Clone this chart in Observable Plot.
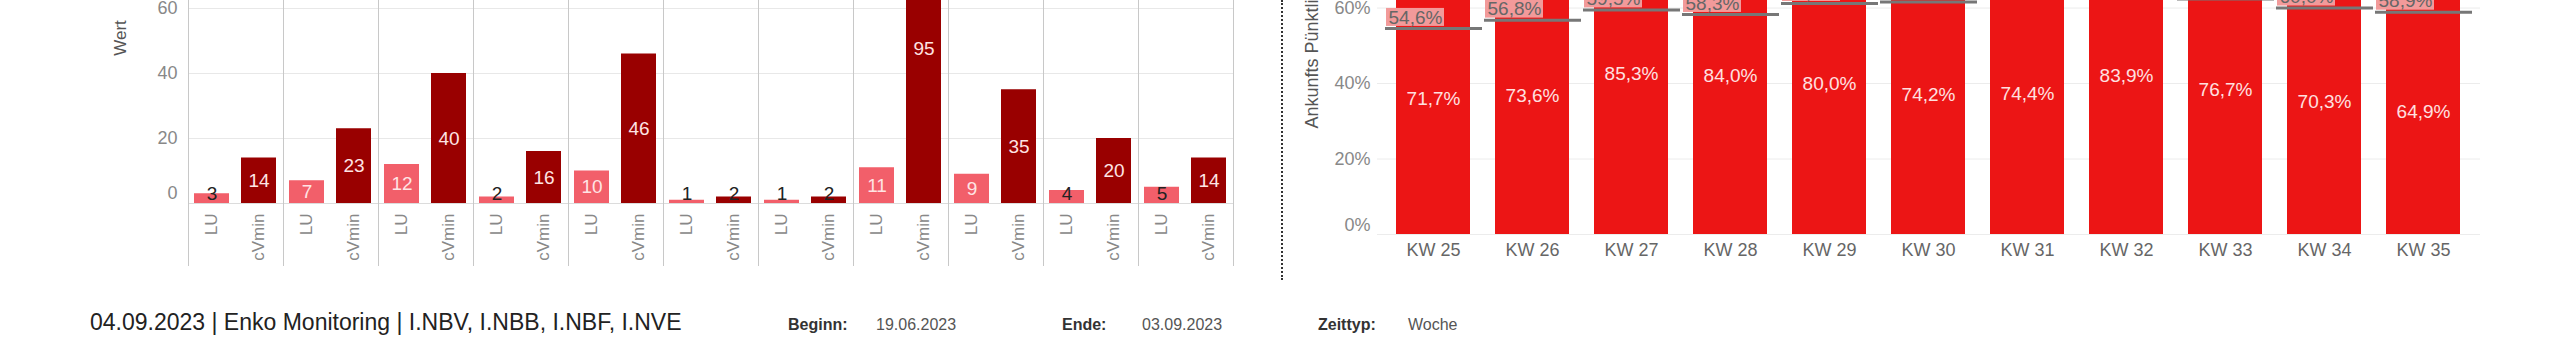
<!DOCTYPE html>
<html>
<head>
<meta charset="utf-8">
<script src="https://cdn.jsdelivr.net/npm/d3@7"></script>
<script src="https://cdn.jsdelivr.net/npm/@observablehq/plot@0.6"></script>
<style>
  html, body { margin: 0; padding: 0; background: #fff; }
  #page { position: relative; width: 2573px; height: 362px; overflow: hidden; font-family: "Liberation Sans", Arial, sans-serif; }
  #left, #right { position: absolute; top: 0; }
  #left { left: 0; }
  #right { left: 1270px; }
  .abs { position: absolute; white-space: nowrap; line-height: 1; }
  .rot { transform: translate(-50%, -50%) rotate(-90deg); }
  #sep { position: absolute; left: 1281px; top: 0; height: 280px; border-left: 2px dotted #333; }
  .lbl { font-size: 16px; font-weight: bold; color: #333; }
  .val { font-size: 16px; color: #555; }
</style>
</head>
<body>
<div id="page">
  <div id="left"></div>
  <div id="right"></div>
  <div id="sep"></div>
  <div class="abs rot" style="left:120px; top:38px; font-size:17px; color:#555;">Wert</div>
  <div class="abs" style="left:90px; top:311px; font-size:23px; color:#222;">04.09.2023 | Enko Monitoring | I.NBV, I.NBB, I.NBF, I.NVE</div>
  <div class="abs lbl" style="left:788px; top:317px;">Beginn:</div>
  <div class="abs val" style="left:876px; top:317px;">19.06.2023</div>
  <div class="abs lbl" style="left:1062px; top:317px;">Ende:</div>
  <div class="abs val" style="left:1142px; top:317px;">03.09.2023</div>
  <div class="abs lbl" style="left:1318px; top:317px;">Zeittyp:</div>
  <div class="abs val" style="left:1408px; top:317px;">Woche</div>
</div>
<script>
// ---- data ----
const weeks = ["KW 25", "KW 26", "KW 27", "KW 28", "KW 29", "KW 30", "KW 31", "KW 32", "KW 33", "KW 34", "KW 35"];
const seriesNames = ["LU", "cVmin"];
const luValues = [3, 7, 12, 2, 10, 1, 1, 11, 9, 4, 5];
const cvminValues = [14, 23, 40, 16, 46, 2, 2, 95, 35, 20, 14];
const punctuality = [71.7, 73.6, 85.3, 84.0, 80.0, 74.2, 74.4, 83.9, 76.7, 70.3, 64.9];
const targets = [54.6, 56.8, 59.5, 58.3, 61.2, 61.6, 62.5, 62.8, 62.4, 60.0, 58.9];
const leftTicks = [20, 40, 60];
const rightTicks = [20, 40, 60];

const font = "'Liberation Sans', Arial, sans-serif";
const pct = v => v.toFixed(1).replace(".", ",") + "%";

const leftData = weeks.flatMap((w, i) => [
  {week: w, series: "LU", value: luValues[i]},
  {week: w, series: "cVmin", value: cvminValues[i]}
]);
const rightData = weeks.map((w, i) => ({week: w, value: punctuality[i], target: targets[i]}));

const left = Plot.plot({
  width: 1270, height: 290,
  marginLeft: 183, marginRight: 33, marginTop: 0, marginBottom: 25,
  style: {fontFamily: font, fontSize: "18px", background: "transparent", overflow: "visible"},
  fx: {domain: weeks, padding: 0, axis: null},
  x: {domain: seriesNames, paddingInner: 0.25, paddingOuter: 0.125, axis: null},
  y: {domain: [0, 62.46], range: [203, 0]},
  color: {domain: seriesNames, range: ["#f25f6a", "#990000"]},
  marks: [
    Plot.gridY({ticks: leftTicks, stroke: "#e8e8e8", strokeOpacity: 1}),
    Plot.ruleY([0], {stroke: "#dcdcdc"}),
    Plot.frame({anchor: "left", stroke: "#c8c8c8"}),
    Plot.frame({anchor: "right", stroke: "#c8c8c8"}),
    Plot.barY(leftData, {fx: "week", x: "series", y: "value", fill: "series", clip: true}),
    Plot.text(leftData.filter(d => d.value >= 6), {fx: "week", x: "series", y: d => d.value / 2, text: d => String(d.value), fill: "#ffe4e4", fontSize: 19}),
    Plot.text(leftData.filter(d => d.value < 6), {fx: "week", x: "series", y: 0, dy: -10, text: d => String(d.value), fill: "#222", fontSize: 19}),
    Plot.text(leftData, {fx: "week", x: "series", y: 0, dy: 10, rotate: -90, textAnchor: "end", text: "series", fill: "#888", fontSize: 17}),
    Plot.axisY({ticks: leftTicks, tickSize: 0, tickPadding: 11, color: "#888", fontSize: 18, label: null}),
    Plot.axisY({ticks: [0], tickSize: 0, tickPadding: 11, dy: -10, color: "#888", fontSize: 18, label: null})
  ]
});
document.getElementById("left").appendChild(left);

const right = Plot.plot({
  width: 1303, height: 290,
  marginLeft: 107, marginRight: 93, marginTop: 0, marginBottom: 56,
  style: {fontFamily: font, fontSize: "18px", background: "transparent", overflow: "visible"},
  x: {domain: weeks, paddingInner: 0.25, paddingOuter: 0.19},
  y: {domain: [0, 62]},
  marks: [
    Plot.gridY({ticks: [0, ...rightTicks], stroke: "#ececec", strokeOpacity: 1}),
    Plot.barY(rightData, {x: "week", y: "value", fill: "#ec1515", clip: true}),
    Plot.text(rightData, {x: "week", y: d => d.value / 2, text: d => pct(d.value), fill: "#ffe0e0", fontSize: 19}),
    Plot.barY(rightData, {x: "week", y1: "target", y2: "target", insetTop: -20, insetBottom: 2, insetLeft: -10, insetRight: 26, fill: "#f29a9a", clip: true}),
    Plot.tickY(rightData, {x: "week", y: "target", stroke: "#777", strokeWidth: 3, insetLeft: -11, insetRight: -12, clip: true}),
    Plot.text(rightData, {x: "week", y: "target", dx: -45, dy: -11, textAnchor: "start", text: d => pct(d.target), fill: "#666", fontSize: 19, clip: true}),
    Plot.text(["Ankunfts Pünktlichkeit"], {frameAnchor: "top-left", dx: -72, dy: 128, rotate: -90, textAnchor: "start", text: d => d, fill: "#555", fontSize: 18}),
    Plot.axisX({tickSize: 0, tickPadding: 9, color: "#666", fontSize: 18, label: null}),
    Plot.axisY({ticks: rightTicks, tickFormat: d => d + "%", tickSize: 0, tickPadding: 7, color: "#888", fontSize: 18, label: null}),
    Plot.axisY({ticks: [0], tickFormat: d => d + "%", tickSize: 0, tickPadding: 7, dy: -9, color: "#888", fontSize: 18, label: null})
  ]
});
document.getElementById("right").appendChild(right);
</script>
</body>
</html>
